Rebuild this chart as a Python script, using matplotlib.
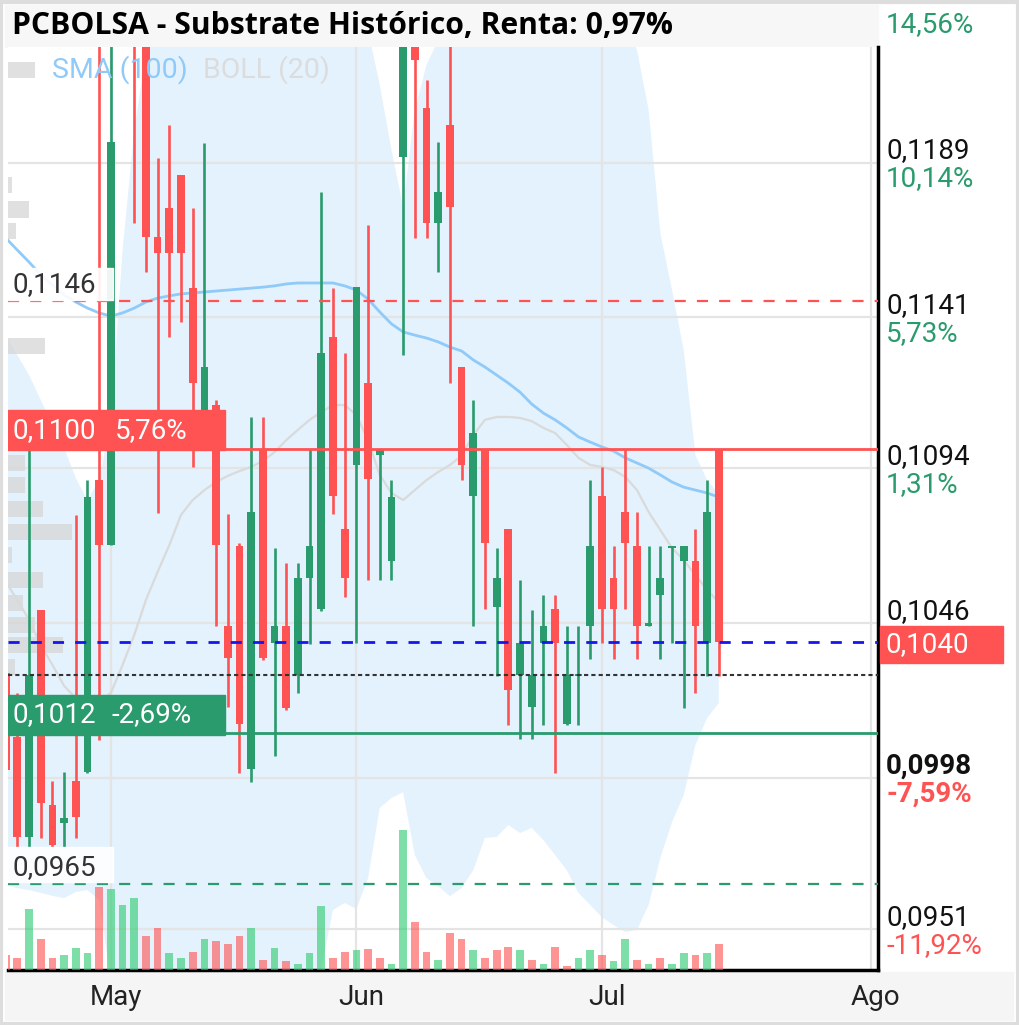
import matplotlib.pyplot as plt
from matplotlib.patches import Rectangle

plt.rcParams['font.family'] = ['Roboto', 'DejaVu Sans']

title = "PCBOLSA - Substrate Histórico, Renta: 0,97%"

# daily candles (trading-day index 0..61)
opens = [0.10305, 0.10106, 0.09796, 0.10501, 0.09895, 0.09839, 0.09969, 0.09998, 0.10904, 0.10702,
         0.1240, 0.1270, 0.1245, 0.11659, 0.11749, 0.11851, 0.11500, 0.11112, 0.11137, 0.10451,
         0.10699, 0.10007, 0.10997, 0.10398, 0.10451, 0.10299, 0.10600, 0.10504, 0.11348, 0.10752,
         0.10951, 0.11205, 0.10982, 0.10653, 0.11907, 0.1235, 0.12059, 0.11702, 0.12005, 0.11255,
         0.10855, 0.1100, 0.10510, 0.10752, 0.10299, 0.10199, 0.10398, 0.10504, 0.10147, 0.10296,
         0.10451, 0.10855, 0.10600, 0.10805, 0.10699, 0.10451, 0.10547, 0.10693, 0.10653, 0.10653,
         0.10398, 0.1100]
closes = [0.10004, 0.09796, 0.10299, 0.09901, 0.09771, 0.09855, 0.09858, 0.10851, 0.10702, 0.11954,
          0.1275, 0.1240, 0.11659, 0.11609, 0.11609, 0.11609, 0.11205, 0.11255, 0.10702, 0.10352,
          0.10147, 0.10805, 0.10352, 0.10451, 0.10196, 0.10600, 0.10699, 0.11299, 0.10855, 0.10600,
          0.11503, 0.10907, 0.1100, 0.10851, 0.1230, 0.12208, 0.11702, 0.11798, 0.11752, 0.10951,
          0.11050, 0.10709, 0.10600, 0.10252, 0.10398, 0.10299, 0.10451, 0.10398, 0.10299, 0.10302,
          0.10699, 0.10504, 0.10504, 0.10709, 0.10451, 0.10461, 0.10600, 0.10699, 0.10699, 0.10451,
          0.10805, 0.1040]
highs = [0.10305, 0.10243, 0.10997, 0.10501, 0.09969, 0.09998, 0.10796, 0.10904, 0.1240, 0.1250,
         0.1290, 0.1285, 0.1255, 0.11904, 0.12005, 0.11851, 0.11749, 0.11951, 0.11153, 0.10799,
         0.10710, 0.11100, 0.11100, 0.10693, 0.10646, 0.10646, 0.1100, 0.11798, 0.11500, 0.11299,
         0.11503, 0.11696, 0.1100, 0.10904, 0.1240, 0.1245, 0.12146, 0.11954, 0.1235, 0.11255,
         0.11153, 0.1100, 0.10693, 0.10752, 0.10594, 0.10501, 0.10547, 0.10547, 0.10451, 0.10451,
         0.10904, 0.10945, 0.10699, 0.1100, 0.10805, 0.10699, 0.10699, 0.10699, 0.10699, 0.10752,
         0.10904, 0.1100]
lows = [0.10004, 0.09765, 0.09765, 0.09793, 0.09765, 0.09765, 0.09793, 0.09994, 0.10097, 0.10702,
        0.1235, 0.11702, 0.11550, 0.10802, 0.11348, 0.11395, 0.10945, 0.11028, 0.10451, 0.10199,
        0.09994, 0.09966, 0.10345, 0.10047, 0.10190, 0.10243, 0.10395, 0.10497, 0.10799, 0.10541,
        0.10398, 0.10594, 0.10594, 0.10594, 0.11292, 0.11656, 0.11656, 0.11550, 0.11205, 0.10904,
        0.10451, 0.10504, 0.10296, 0.10144, 0.10100, 0.10100, 0.10144, 0.09994, 0.10144, 0.10144,
        0.10348, 0.10398, 0.10348, 0.10504, 0.10348, 0.10451, 0.10348, 0.10398, 0.10196, 0.10243,
        0.10296, 0.10296]

# volume (miles) and its colour (1 = up)
volume = [150, 120, 610, 310, 120, 150, 220, 170, 830, 810,
          650, 720, 340, 420, 170, 120, 180, 310, 290, 260,
          340, 420, 100, 220, 90, 60, 170, 640, 120, 180,
          200, 210, 120, 60, 1400, 480, 180, 100, 370, 310,
          200, 120, 200, 230, 200, 100, 60, 230, 40, 120,
          200, 150, 90, 310, 100, 60, 120, 60, 170, 150,
          170, 260]
vol_up = [0, 0, 1, 0, 0, 1, 1, 1, 0, 1,
          1, 1, 0, 0, 1, 1, 0, 1, 0, 0,
          0, 1, 0, 1, 0, 1, 1, 1, 0, 0,
          1, 0, 0, 1, 1, 0, 0, 1, 0, 0,
          1, 0, 0, 0, 1, 0, 1, 0, 0, 1,
          1, 0, 1, 1, 0, 1, 0, 1, 1, 0,
          1, 0]

sma100 = [0.11656, 0.11618, 0.11581, 0.11541, 0.11510, 0.11479, 0.11457, 0.11438, 0.11423, 0.11413,
          0.11423, 0.11438, 0.11457, 0.11469, 0.11476, 0.11482, 0.11485, 0.11488, 0.11491, 0.11494,
          0.11497, 0.11500, 0.11503, 0.11507, 0.11513, 0.11516, 0.11516, 0.11516, 0.11516, 0.11507,
          0.11494, 0.11466, 0.11426, 0.11389, 0.11364, 0.11354, 0.11345, 0.11333, 0.11317, 0.11305,
          0.11277, 0.11255, 0.11230, 0.11205, 0.11177, 0.11140, 0.11112, 0.11091, 0.11066, 0.11038,
          0.11022, 0.11007, 0.10994, 0.10973, 0.10957, 0.10941, 0.10920, 0.10898, 0.10882, 0.10873,
          0.10864, 0.10851]
boll_up = [0.11354, 0.11292, 0.11230, 0.11153, 0.11075, 0.11004, 0.10910, 0.10842, 0.10904, 0.11091,
           0.11618, 0.11991, 0.12224, 0.1245, 0.1260, 0.1270, 0.1275, 0.1278, 0.1278, 0.1275,
           0.1272, 0.1268, 0.1265, 0.1262, 0.1260, 0.1258, 0.1255, 0.1250, 0.1245, 0.1238,
           0.1235, 0.12301, 0.12131, 0.11929, 0.11752, 0.12053, 0.12193, 0.12270, 0.1235, 0.1245,
           0.1250, 0.1252, 0.1253, 0.1253, 0.1252, 0.1250, 0.1248, 0.1246, 0.1244, 0.1242,
           0.1240, 0.1238, 0.1235, 0.1231, 0.1224, 0.12053, 0.11671, 0.11494, 0.11308, 0.10982,
           0.10904, 0.10861]
boll_mid = [0.10588, 0.10532, 0.10470, 0.10392, 0.10330, 0.10265, 0.10227, 0.10206, 0.10212, 0.10243,
            0.10330, 0.10423, 0.10532, 0.10619, 0.10702, 0.10796, 0.10842, 0.10873, 0.10898, 0.10917,
            0.10932, 0.10945, 0.10963, 0.10991, 0.11028, 0.11060, 0.11091, 0.11115, 0.11137, 0.11137,
            0.11106, 0.11028, 0.10920, 0.10864, 0.10842, 0.10873, 0.10904, 0.10929, 0.10951, 0.10979,
            0.11044, 0.11091, 0.11100, 0.11100, 0.11097, 0.11087, 0.11066, 0.11050, 0.11013, 0.10973,
            0.10951, 0.10945, 0.10935, 0.10914, 0.10873, 0.10805, 0.10749, 0.10693, 0.10656, 0.10609,
            0.10563, 0.10525]
boll_low = [0.09647, 0.09637, 0.09631, 0.09622, 0.09613, 0.09606, 0.09625, 0.09631, 0.09600, 0.09352,
            0.0925, 0.0918, 0.0912, 0.0908, 0.0905, 0.0903, 0.0902, 0.0902, 0.0903, 0.0905,
            0.0908, 0.0912, 0.0916, 0.0921, 0.0926, 0.0930, 0.0934, 0.09389, 0.09569, 0.09591,
            0.09572, 0.09668, 0.09886, 0.09917, 0.09935, 0.09740, 0.09668, 0.09643, 0.09612, 0.09637,
            0.09693, 0.09793, 0.09796, 0.09833, 0.09808, 0.09824, 0.09786, 0.09740, 0.09693, 0.09622,
            0.09585, 0.09547, 0.09522, 0.09501, 0.09507, 0.09585, 0.09731, 0.09842, 0.09926, 0.10081,
            0.10165, 0.10212]

# volume-by-price profile on the left (share of the chart width)
vp_price = [0.12177, 0.11820, 0.11743, 0.11677, 0.11320, 0.10957, 0.10889, 0.10814,
            0.10743, 0.10671, 0.10594, 0.10522, 0.10454, 0.10392, 0.10324]
vp_width = [0.031, 0.005, 0.024, 0.009, 0.043, 0.020, 0.020, 0.040,
            0.074, 0.005, 0.040, 0.017, 0.031, 0.063, 0.008]

month_pos = [9, 30, 51, 74]
month_lab = ["May", "Jun", "Jul", "Ago"]

tick_vals = [0.0951, 0.0998, 0.1046, 0.1094, 0.1141, 0.1189, 0.1237]
tick_price = ["0,0951", "0,0998", "0,1046", "0,1094", "0,1141", "0,1189", ""]
tick_pct = ["-11,92%", "-7,59%", "", "1,31%", "5,73%", "10,14%", "14,56%"]

GREEN = '#299b6c'
RED = '#ff5252'

fig = plt.figure(figsize=(10.2, 10.25), dpi=100)

# title bar, bottom strip and frame (behind the chart)
fig.patches.append(Rectangle((5 / 1020, 978 / 1025), 873 / 1020, 42 / 1025,
                             transform=fig.transFigure, color='#f7f7f7', zorder=-2))
fig.patches.append(Rectangle((5 / 1020, 5 / 1025), 1008 / 1020, 48 / 1025,
                             transform=fig.transFigure, color='#f5f5f5', zorder=-2))
fig.patches.append(Rectangle((1.5 / 1020, 1.5 / 1025), 1 - 3 / 1020, 1 - 3 / 1025, fill=False,
                             edgecolor='#dddddd', lw=3, transform=fig.transFigure, zorder=-2))

ax = fig.add_axes([8 / 1020, 55 / 1025, 870 / 1020, 923 / 1025])
ax.set_xlim(0.2, 74.62)
ax.set_ylim(0.093828, 0.122487)

n = len(opens)
xs = list(range(n))

# bollinger band
ax.fill_between(xs, boll_low, boll_up, color='#e3f2fd', lw=0, zorder=1)

# grid
for v in tick_vals[:-1]:
    ax.axhline(v, color='#e4e4e4', lw=1.6, zorder=1.5)
for p in month_pos:
    ax.axvline(p, color='#e4e4e4', lw=1.6, zorder=1.5)

# volume profile
ax.barh(vp_price, vp_width, height=0.00052, left=0, color='#d6d6d6', alpha=0.75,
        transform=ax.get_yaxis_transform(), zorder=2)

ax.plot(xs, boll_mid, color='#dadada', lw=1.6, zorder=2.5)
ax.plot(xs, sma100, color='#90caf9', lw=2, zorder=2.5)

# candles
cols = [GREEN if c >= o else RED for o, c in zip(opens, closes)]
ax.vlines(xs, lows, highs, colors=cols, lw=1.9, zorder=3)
bodies = [max(abs(c - o), 0.00006) for o, c in zip(opens, closes)]
ax.bar(xs, bodies, bottom=[min(o, c) for o, c in zip(opens, closes)], width=0.66,
       color=cols, zorder=3.1)

# reference levels
ax.axhline(0.1146, color=RED, lw=1.6, ls=(0, (5, 5)), zorder=4)
ax.axhline(0.1100, color=RED, lw=2, zorder=4)
ax.axhline(0.1040, color='#1515f0', lw=2, ls=(0, (4, 4)), zorder=4)
ax.axhline(0.1030, color='#333333', lw=1.5, ls=(0, (2, 1.5)), zorder=4)
ax.axhline(0.1012, color=GREEN, lw=2, zorder=4)
ax.axhline(0.0965, color=GREEN, lw=1.6, ls=(0, (5, 5)), zorder=4)

yt = ax.get_yaxis_transform()
ax.add_patch(Rectangle((0, 0.11463), 0.1207, 0.00099, transform=yt, color='white', alpha=0.92, zorder=6))
ax.text(0.0046, 0.11510, "0,1146", transform=yt, fontsize=20, color='#333333', va='center', zorder=7)
ax.add_patch(Rectangle((0, 0.09656), 0.1207, 0.00109, transform=yt, color='white', alpha=0.92, zorder=6))
ax.text(0.0046, 0.09700, "0,0965", transform=yt, fontsize=20, color='#333333', va='center', zorder=7)
ax.add_patch(Rectangle((0, 0.10997), 0.2494, 0.00124, transform=yt, color=RED, zorder=6))
ax.text(0.0046, 0.11059, "0,1100", transform=yt, fontsize=20, color='white', va='center', zorder=7)
ax.text(0.123, 0.11059, "5,76%", transform=yt, fontsize=20, color='white', va='center', zorder=7)
ax.add_patch(Rectangle((0, 0.10113), 0.2494, 0.00124, transform=yt, color=GREEN, zorder=6))
ax.text(0.0046, 0.10175, "0,1012", transform=yt, fontsize=20, color='white', va='center', zorder=7)
ax.text(0.119, 0.10175, "-2,69%", transform=yt, fontsize=20, color='white', va='center', zorder=7)

# legend
ax.text(0.0506, 0.975, "SMA (100)", transform=ax.transAxes, fontsize=20.5, color='#90caf9', va='center', zorder=7)
ax.text(0.2241, 0.975, "BOLL (20)", transform=ax.transAxes, fontsize=20.5, color='#dcdcdc', va='center', zorder=7)

# right price scale
for v, pl, pc in zip(tick_vals, tick_price, tick_pct):
    bold = pl == "0,0998"
    if pl:
        ax.annotate(pl, xy=(1.0092, v), xycoords=yt, xytext=(0, 4), textcoords='offset pixels',
                    fontsize=20, color='#111111', va='baseline', annotation_clip=False,
                    fontweight='bold' if bold else 'normal')
    if pc:
        ax.annotate(pc, xy=(1.0092, v), xycoords=yt, xytext=(0, -3), textcoords='offset pixels',
                    fontsize=20, color=RED if pc.startswith('-') else GREEN, va='top',
                    annotation_clip=False, fontweight='bold' if bold else 'normal')

# months (label sits just right of its grid line)
for p, lab in zip(month_pos, month_lab):
    ax.annotate(lab, xy=(p, -0.0303), xycoords=ax.get_xaxis_transform(), xytext=(5, 0),
                textcoords='offset pixels', fontsize=20, color='#222222', ha='center',
                va='center', annotation_clip=False, zorder=7)

for s in ['left', 'top']:
    ax.spines[s].set_visible(False)
for s in ['right', 'bottom']:
    ax.spines[s].set_color('black')
    ax.spines[s].set_linewidth(2.5)
ax.set_xticks([])
ax.set_yticks([])

# volume on its own scale
ax2 = ax.twinx()
ax2.set_ylim(0, 9230)
ax2.bar(xs, volume, width=0.66, color=['#2ecc71' if u else RED for u in vol_up],
        alpha=0.62, zorder=3)
ax2.set_yticks([])
for s in ax2.spines.values():
    s.set_visible(False)

# current price tag on the scale
fig.patches.append(Rectangle((880 / 1020, 362 / 1025), 123 / 1020, 37 / 1025,
                             transform=fig.transFigure, color=RED, zorder=5))
fig.text(886 / 1020, 1 - 645 / 1025, "0,1040", fontsize=20, color='white', va='center', zorder=6)

fig.text(12 / 1020, 1 - 26 / 1025, title, fontsize=21.7, fontweight='bold', family='Open Sans',
         va='center', color='black')

fig.savefig('out.png', dpi=100)
